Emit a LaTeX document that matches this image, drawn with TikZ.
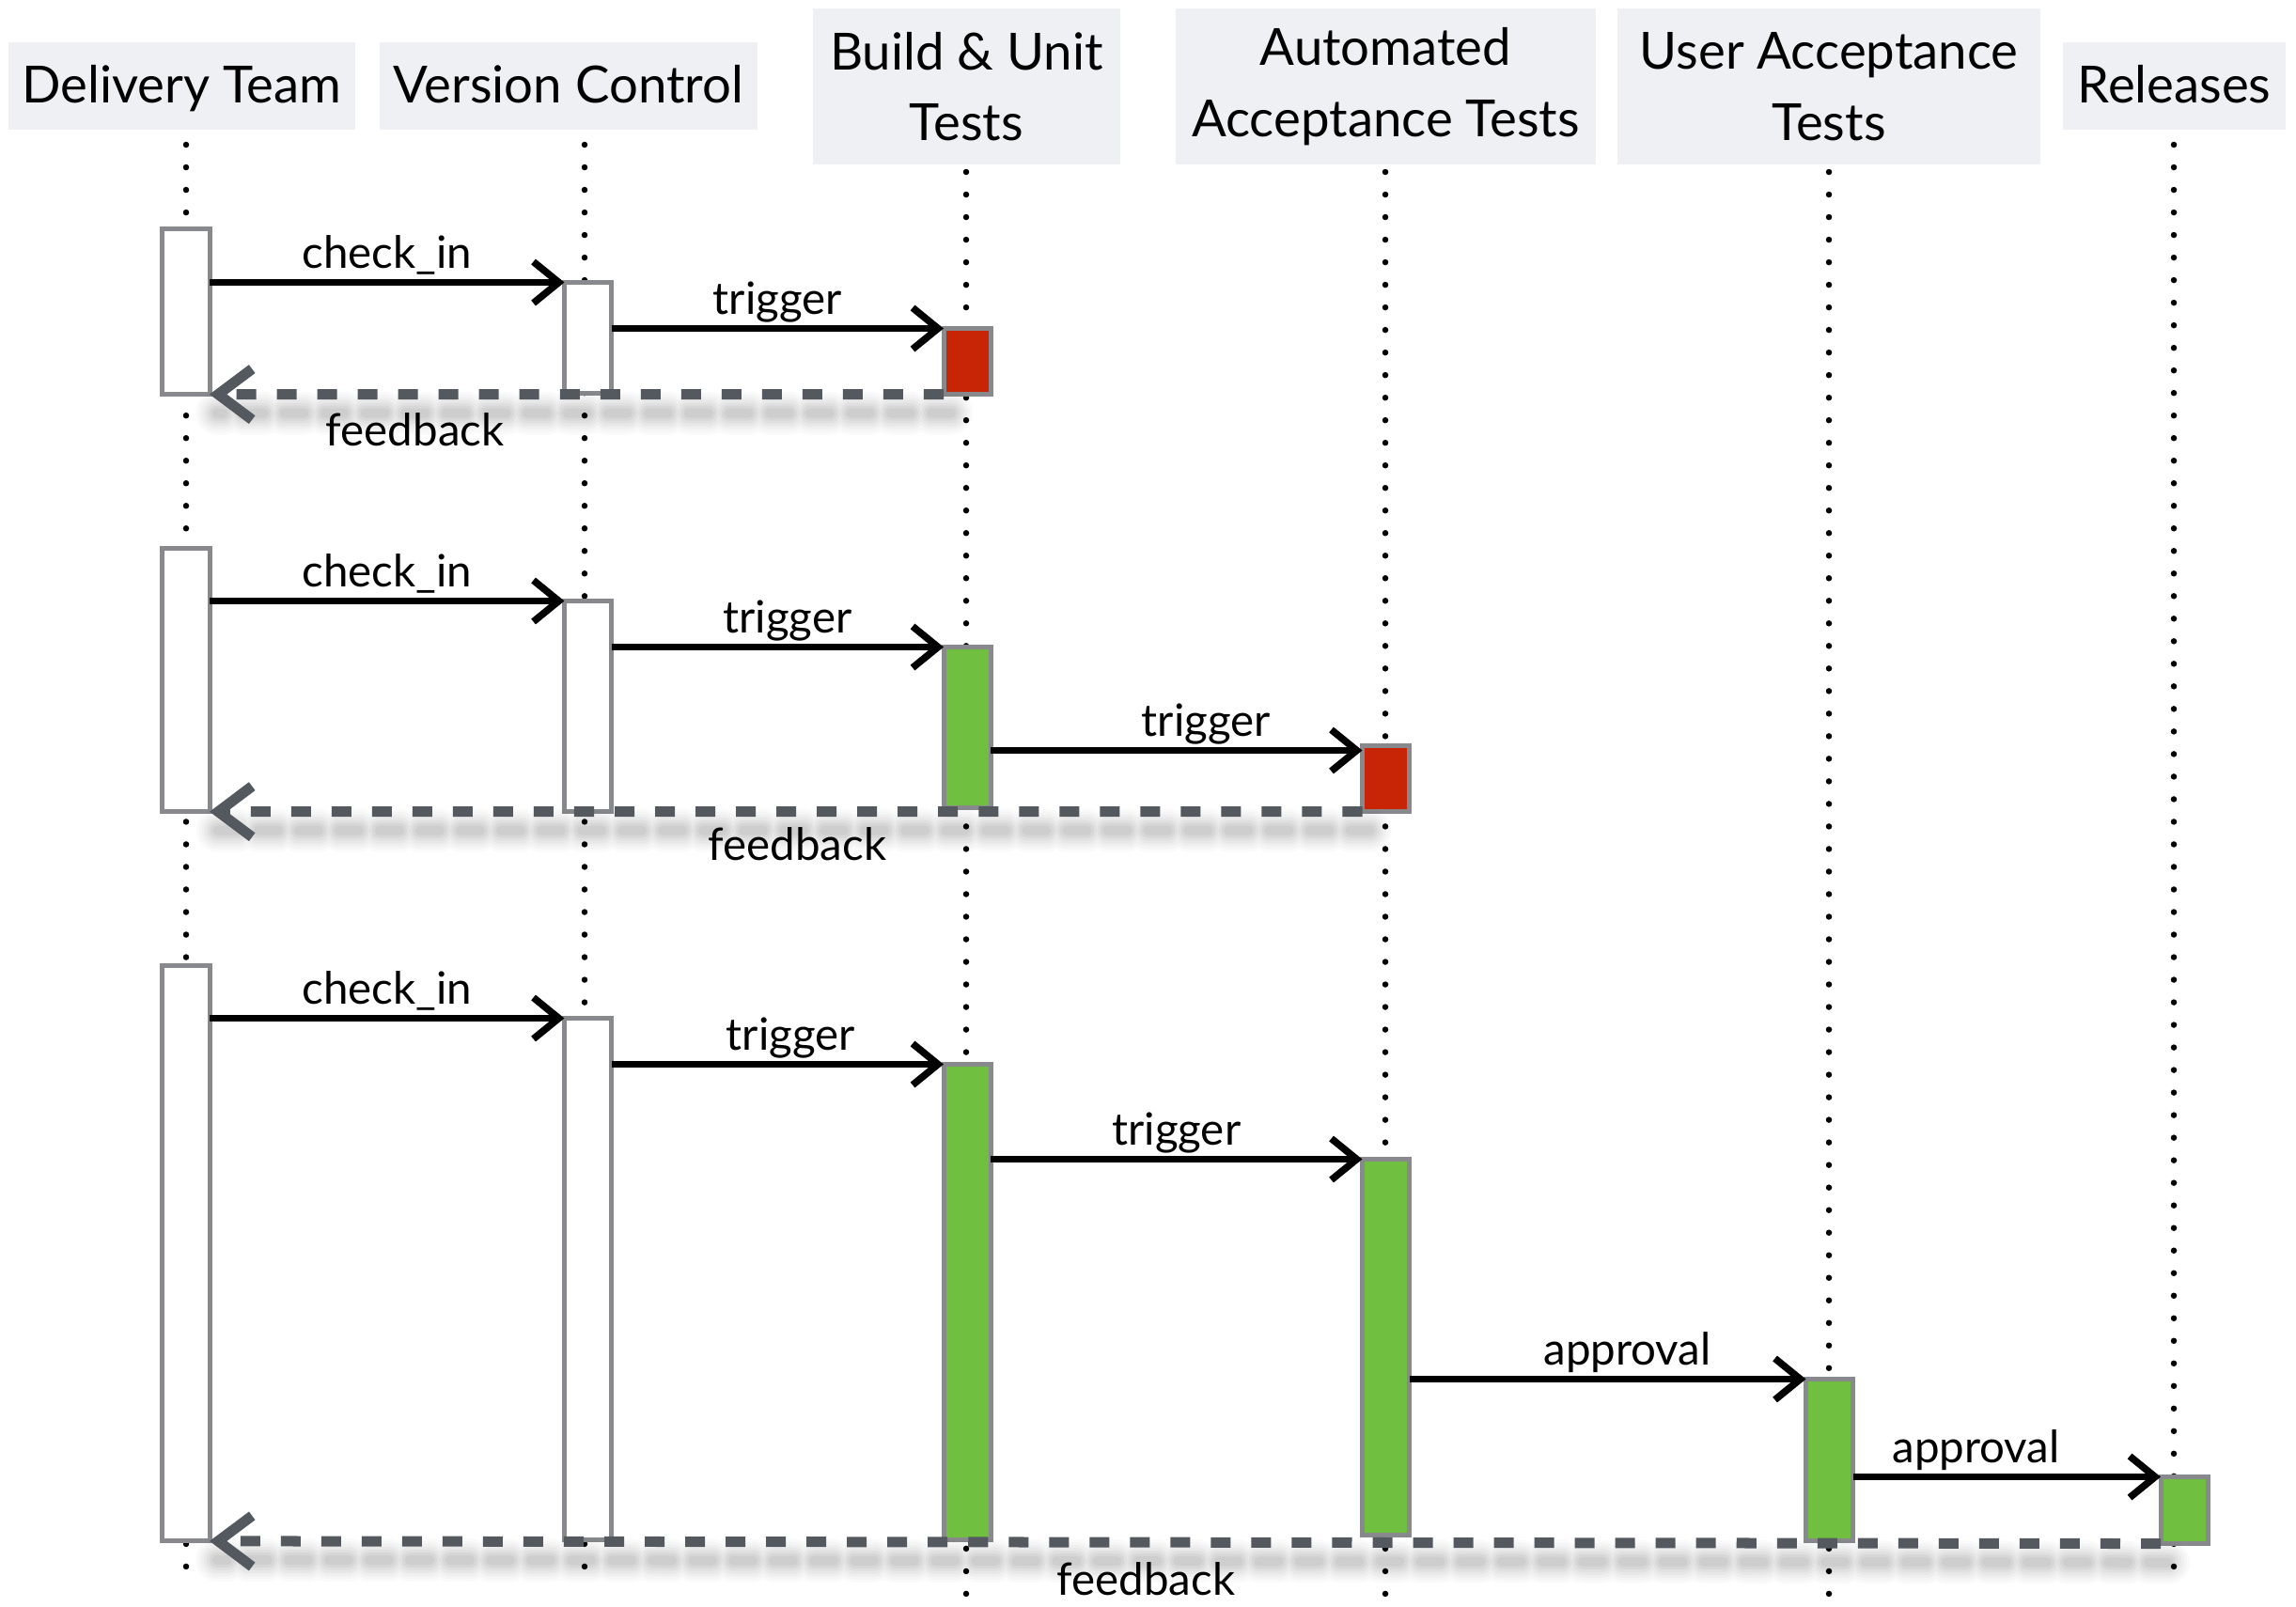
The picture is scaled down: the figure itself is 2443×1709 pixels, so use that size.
\documentclass[tikz,border=0pt]{standalone}
\usepackage{fontspec}
\setmainfont{Lato}
\usetikzlibrary{arrows.meta}
\definecolor{hdr}{HTML}{EFF0F4}
\definecolor{bordergray}{HTML}{87898D}
\definecolor{fbgray}{HTML}{545960}
\definecolor{failred}{HTML}{C82506}
\definecolor{passgreen}{HTML}{70BF41}
\newcommand\fbshadow[2]{%
  \foreach \w/\o in {0.46/0.018,0.40/0.02,0.34/0.025,0.28/0.03,0.22/0.035,0.16/0.04,0.10/0.045}{%
    \draw[line width=\w cm, draw=black, opacity=\o, dash pattern=on 0.21cm off 0.22cm, line cap=round]
      ([shift={(8,20)}]#1) -- ([shift={(8,20)}]#2);
  }%
}
\begin{document}
\begin{tikzpicture}[x=0.01cm,y=-0.01cm,
  header/.style={fill=hdr, inner sep=0pt, align=center, font=\fontsize{15.5}{21.5}\selectfont},
  actbox/.style={draw=bordergray, line width=0.05cm, minimum width=0.5cm, inner sep=0pt, outer sep=0pt, anchor=north},
  lifeline/.style={line width=0.065cm, line cap=round, dash pattern=on 0pt off 0.24cm},
  msg/.style={line width=0.075cm, -{Straight Barb[length=0.27cm,width=0.44cm,line width=0.075cm]}},
  fb/.style={draw=fbgray, line width=0.11cm, dash pattern=on 0.21cm off 0.22cm, -{Straight Barb[length=0.36cm,width=0.54cm,line width=0.11cm]}},
  lbl/.style={font=\fontsize{13.5}{16}\selectfont, inner sep=0pt, anchor=base}
]
\useasboundingbox (0,0) rectangle (2443,1709);

% headers
\node[header, minimum width=3.69cm, minimum height=0.93cm, text depth=0.25ex] (hD) at (193.5,91.5) {Delivery Team};
\node[header, minimum width=4.02cm, minimum height=0.93cm, text depth=0.25ex] (hV) at (605,91.5) {Version Control};
\node[header, minimum width=3.27cm, minimum height=1.66cm] (hB) at (1028.5,92) {Build \& Unit\\Tests};
\node[header, minimum width=4.47cm, minimum height=1.66cm] (hA) at (1474.5,92) {Automated\\Acceptance Tests};
\node[header, minimum width=4.50cm, minimum height=1.66cm] (hU) at (1946,92) {User Acceptance\\Tests};
\node[header, minimum width=2.37cm, minimum height=0.93cm, text depth=0.25ex] (hR) at (2313.5,91.5) {Releases};

% lifelines
\coordinate (lD1) at (198,154);  \coordinate (lD2) at (198,1667);
\coordinate (lV1) at (622,154);  \coordinate (lV2) at (622,1667);
\coordinate (lB1) at (1028,183); \coordinate (lB2) at (1028,1698);
\coordinate (lA1) at (1474,183); \coordinate (lA2) at (1474,1698);
\coordinate (lU1) at (1946,183); \coordinate (lU2) at (1946,1698);
\coordinate (lR1) at (2313,154); \coordinate (lR2) at (2313,1667);
\foreach \n in {D,V,B,A,U,R}{\draw[lifeline] (l\n1) -- (l\n2);}

% group 1
\node[actbox, fill=white, minimum height=1.76cm] (d1) at (198,243.5) {};
\node[actbox, fill=white, minimum height=1.18cm] (v1) at (625.5,300.5) {};
\node[actbox, fill=failred, minimum height=0.70cm] (b1) at (1029,349.5) {};
\draw[msg] (d1.east |- v1.north west) -- node[lbl, yshift=0.15cm]{check\_in} (v1.north west);
\draw[msg] (v1.east |- b1.north west) -- node[lbl, yshift=0.15cm]{trigger} (b1.north west);
\fbshadow{b1.south west}{d1.south east}
\draw[fb] (b1.south west) -- node[pos=0.72, lbl, yshift=-0.55cm]{feedback} (d1.south east);

% group 2
\node[actbox, fill=white, minimum height=2.80cm] (d2) at (198,583.5) {};
\node[actbox, fill=white, minimum height=2.24cm] (v2) at (625.5,639.5) {};
\node[actbox, fill=passgreen, minimum height=1.71cm] (b2) at (1029,688.5) {};
\node[actbox, fill=failred, minimum height=0.70cm] (a2) at (1474.5,793.5) {};
\draw[msg] (d2.east |- v2.north west) -- node[lbl, yshift=0.15cm]{check\_in} (v2.north west);
\draw[msg] (v2.east |- b2.north west) -- node[pos=0.53, lbl, yshift=0.15cm]{trigger} (b2.north west);
\coordinate (a2in) at ([yshift=-0.05cm]a2.north west);
\draw[msg] (b2.east |- a2in) -- node[pos=0.58, lbl, yshift=0.15cm]{trigger} (a2in);
\fbshadow{a2.south west}{d2.south east}
\draw[fb] (a2.south west) -- node[pos=0.49, lbl, yshift=-0.52cm]{feedback} (d2.south east);

% group 3
\node[actbox, fill=white, minimum height=6.12cm] (d3) at (198,1027.5) {};
\node[actbox, fill=white, minimum height=5.55cm] (v3) at (625.5,1083.5) {};
\node[actbox, fill=passgreen, minimum height=5.06cm] (b3) at (1029,1132.5) {};
\node[actbox, fill=passgreen, minimum height=4.00cm] (a3) at (1474.5,1233.5) {};
\node[actbox, fill=passgreen, minimum height=1.72cm] (u3) at (1946.5,1467.5) {};
\node[actbox, fill=passgreen, minimum height=0.71cm] (r3) at (2324,1571.5) {};
\draw[msg] (d3.east |- v3.north west) -- node[lbl, yshift=0.15cm]{check\_in} (v3.north west);
\draw[msg] (v3.east |- b3.north west) -- node[pos=0.54, lbl, yshift=0.15cm]{trigger} (b3.north west);
\draw[msg] (b3.east |- a3.north west) -- node[pos=0.5, lbl, yshift=0.15cm]{trigger} (a3.north west);
\draw[msg] (a3.east |- u3.north west) -- node[pos=0.55, lbl, yshift=0.15cm]{approval} (u3.north west);
\draw[msg] (u3.east |- r3.north west) -- node[pos=0.4, lbl, yshift=0.15cm]{approval} (r3.north west);
\fbshadow{r3.south west}{d3.south east}
\draw[fb] (r3.south west) -- node[pos=0.52, lbl, yshift=-0.56cm]{feedback} (d3.south east);
\end{tikzpicture}
\end{document}
